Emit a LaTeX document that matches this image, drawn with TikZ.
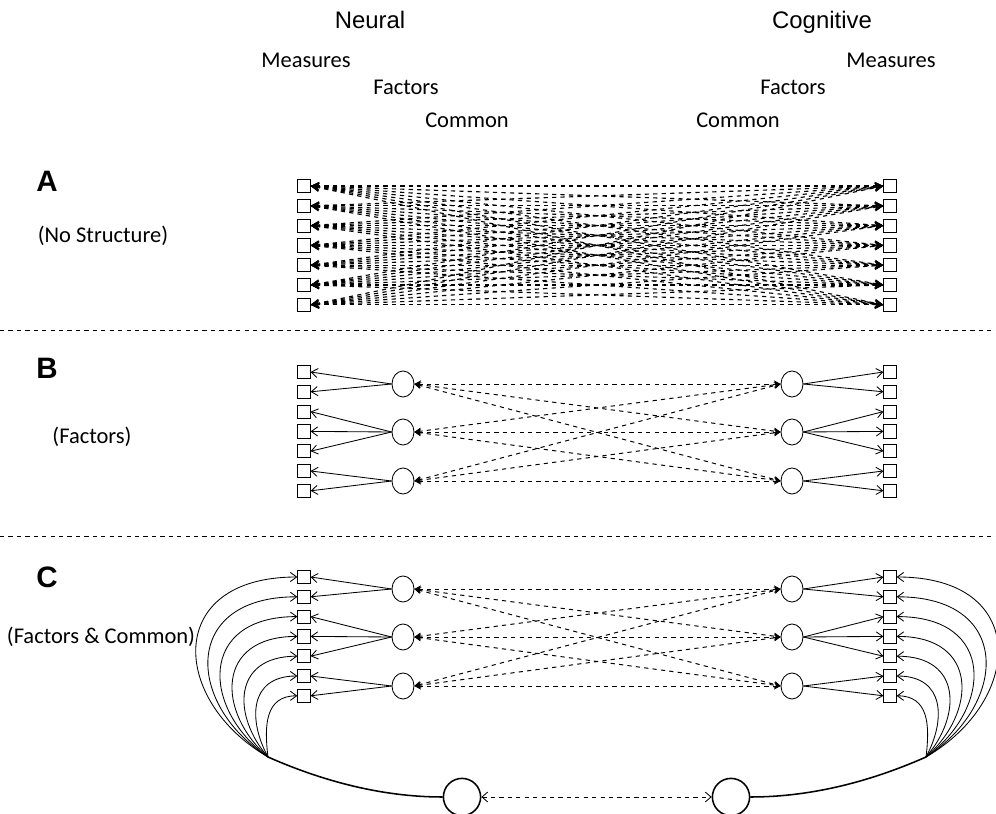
\documentclass[tikz,border=0pt]{standalone}
\usepackage{fontspec}
\setmainfont{Carlito}
\newfontfamily\arialfont{Liberation Sans}
\usepackage{tikz}
\usetikzlibrary{arrows.meta}
\usetikzlibrary{shapes.geometric,calc}

\tikzset{
  measure/.style={draw, line width=0.6pt, minimum width=0.31cm, minimum height=0.33cm, inner sep=0pt},
  factor/.style={draw, ellipse, line width=0.6pt, minimum width=0.55cm, minimum height=0.65cm, inner sep=0pt},
  common/.style={draw, circle, line width=1.1pt, minimum size=0.93cm, inner sep=0pt},
  loading/.style={line width=0.6pt, -{Straight Barb[length=4.5pt,width=6.5pt]}},
  nostruct/.style={dashed, line width=0.8pt, {Stealth[length=6pt,width=6pt]}-{Stealth[length=6pt,width=6pt]}},
  corr/.style={dashed, line width=0.7pt, {Stealth[length=4.5pt,width=5pt]}-{Stealth[length=4.5pt,width=5pt]}},
  commoncorr/.style={dashed, line width=0.6pt, {Straight Barb[length=4pt,width=7pt]}-{Straight Barb[length=4pt,width=7pt]}},
  commonline/.style={line width=1.1pt},
  head/.style={anchor=base, font=\arialfont\fontsize{17}{20}\selectfont},
  sub/.style={font=\fontsize{16}{19}\selectfont},
  panel/.style={font=\arialfont\bfseries\fontsize{21}{24}\selectfont},
  divider/.style={dashed, line width=0.6pt}
}

\begin{document}
\begin{tikzpicture}[x=0.025cm, y=-0.025cm]
\useasboundingbox (0,0) rectangle (996,814);

% headings
\node[head] (neural) at (370,29) {Neural};
\node[head] (cognitive) at (822,29) {Cognitive};
\node[sub] (lmeas) at (306,60) {Measures};
\node[sub] (lfact) at (406,87) {Factors};
\node[sub] (lcomm) at (467,120) {Common};
\node[sub] (rmeas) at (891,60) {Measures};
\node[sub] (rfact) at (793,87) {Factors};
\node[sub] (rcomm) at (738,120) {Common};

% A
\node[panel] (pA) at (47,181) {A};
\node[sub] (tA) at (103,236) {(No Structure)};
\foreach \i in {1,...,7}
{
\node[measure] (aL\i) at (304,{186+19.8*(\i-1)}) {};
\node[measure] (aR\i) at (890,{186+19.8*(\i-1)}) {};
}
\foreach \i in {1,...,7}
\foreach \j in {1,...,7}
\draw[nostruct] (aL\i.east) -- (aR\j.west);

\draw[divider] (0,330) -- (996,330);

% B
\node[panel] (pB) at (47,368) {B};
\node[sub] (tB) at (92,437) {(Factors)};
\foreach \i in {1,...,7}
{
\node[measure] (bL\i) at (304,{372+19.8*(\i-1)}) {};
\node[measure] (bR\i) at (890,{372+19.8*(\i-1)}) {};
}
\node[factor] (bF1) at (403,384) {};
\node[factor] (bF2) at (403,432) {};
\node[factor] (bF3) at (403,481) {};
\node[factor] (bG1) at (792,384) {};
\node[factor] (bG2) at (792,432) {};
\node[factor] (bG3) at (792,481) {};
\foreach \k/\m in {1/1,1/2,2/3,2/4,2/5,3/6,3/7}
{
\draw[loading] (bF\k.west) -- (bL\m.east);
\draw[loading] (bG\k.east) -- (bR\m.west);
}
\foreach \k in {1,2,3}
\foreach \m in {1,2,3}
\draw[corr] (bF\k.east) -- (bG\m.west);

\draw[divider] (0,536) -- (996,536);

% C
\node[panel] (pC) at (47,577) {C};
\node[sub] (tC) at (101,637) {(Factors \& Common)};
\foreach \i in {1,...,7}
{
\node[measure] (cL\i) at (304,{577+19.8*(\i-1)}) {};
\node[measure] (cR\i) at (890,{577+19.8*(\i-1)}) {};
}
\node[factor] (cF1) at (403,589) {};
\node[factor] (cF2) at (403,637) {};
\node[factor] (cF3) at (403,686) {};
\node[factor] (cG1) at (792,589) {};
\node[factor] (cG2) at (792,637) {};
\node[factor] (cG3) at (792,686) {};
\foreach \k/\m in {1/1,1/2,2/3,2/4,2/5,3/6,3/7}
{
\draw[loading] (cF\k.west) -- (cL\m.east);
\draw[loading] (cG\k.east) -- (cR\m.west);
}
\foreach \k in {1,2,3}
\foreach \m in {1,2,3}
\draw[corr] (cF\k.east) -- (cG\m.west);

% common factors
\node[common] (cN) at (462,797) {};
\node[common] (cC) at (731,797) {};
\draw[commoncorr] (cN.east) -- (cC.west);
\coordinate (jL) at (268,757);
\coordinate (jR) at (926,757);
\draw[commonline] (cN.west) .. controls (380,797) and (320,780) .. (jL);
\draw[commonline] (cC.east) .. controls (814,797) and (874,780) .. (jR);
\foreach \i in {1,...,7}
{
\pgfmathsetmacro{\k}{(\i-1)/6}
\draw[loading] (jL) .. controls ({170+94*\k},{700+25*\k}) and +({-133+101*\k},0) .. (cL\i.west);
\draw[loading] (jR) .. controls ({1024-94*\k},{700+25*\k}) and +({133-101*\k},0) .. (cR\i.east);
}
\end{tikzpicture}
\end{document}
